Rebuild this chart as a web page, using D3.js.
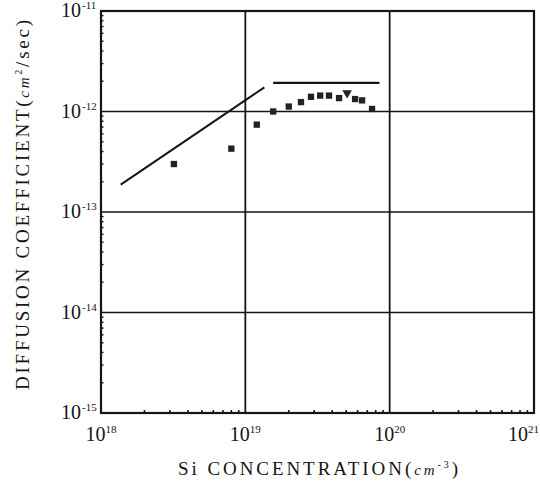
<!DOCTYPE html>
<html>
<head>
<meta charset="utf-8">
<script src="https://cdn.jsdelivr.net/npm/d3@7"></script>
<style>
  html, body { margin: 0; padding: 0; background: #fff; }
  svg { display: block; }
  svg text { font-family: "Liberation Serif", "Times New Roman", "DejaVu Serif", serif; }
</style>
</head>
<body>
<svg id="chart" width="540" height="486"></svg>
<script>
// Si concentration (cm^-3) and measured diffusion coefficient (cm^2/sec)
const concentration = [3.2e18, 8e18, 1.2e19, 1.56e19, 2e19, 2.43e19, 2.85e19, 3.3e19, 3.8e19, 4.46e19, 5.07e19, 5.76e19, 6.44e19, 7.55e19];
const diffusivity   = [3.0e-13, 4.27e-13, 7.4e-13, 1.0e-12, 1.12e-12, 1.24e-12, 1.40e-12, 1.44e-12, 1.44e-12, 1.36e-12, 1.53e-12, 1.33e-12, 1.29e-12, 1.06e-12];
const markerShape   = ["square", "square", "square", "square", "square", "square", "square", "square", "square", "square", "triangle", "square", "square", "square"];

// Guide lines: proportional rise at low concentration, plateau at high concentration
const riseLineX = [1.37e18, 1.355e19];
const riseLineY = [1.87e-13, 1.74e-12];
const flatLineX = [1.56e19, 8.5e19];
const flatLineY = [1.93e-12, 1.93e-12];

// Decade tick exponents
const xTickExponents = [18, 19, 20, 21];
const yTickExponents = [-11, -12, -13, -14, -15];

const svg = d3.select("#chart");
svg.append("rect").attr("width", 540).attr("height", 486).attr("fill", "#fff");

const plotLeft = 101, plotRight = 534, plotTop = 11, plotBottom = 413;
const x = d3.scaleLog().domain([1e18, 1e21]).range([plotLeft, plotRight]);
const y = d3.scaleLog().domain([1e-15, 1e-11]).range([plotBottom, plotTop]);

const ink = "#151515";

// Minor ticks along the bottom axis (pointing into the plot)
const xMinor = [];
for (let e = 18; e < 21; e++) for (let m = 2; m <= 9; m++) xMinor.push(m * Math.pow(10, e));
svg.append("g").selectAll("line").data(xMinor).join("line")
  .attr("x1", d => x(d)).attr("x2", d => x(d))
  .attr("y1", plotBottom).attr("y2", plotBottom - 3)
  .attr("stroke", ink).attr("stroke-width", 1.6);

// Minor ticks along the left axis
const yMinor = [];
for (let e = -15; e < -11; e++) for (let m = 2; m <= 9; m++) yMinor.push(m * Math.pow(10, e));
svg.append("g").selectAll("line").data(yMinor).join("line")
  .attr("x1", plotLeft).attr("x2", plotLeft + 2.5)
  .attr("y1", d => y(d)).attr("y2", d => y(d))
  .attr("stroke", ink).attr("stroke-width", 1.4);

// Decade grid lines
svg.append("g").selectAll("line").data(xTickExponents.slice(1, -1)).join("line")
  .attr("x1", e => x(Math.pow(10, e))).attr("x2", e => x(Math.pow(10, e)))
  .attr("y1", plotTop).attr("y2", plotBottom)
  .attr("stroke", ink).attr("stroke-width", 1.8);
svg.append("g").selectAll("line").data(yTickExponents.slice(1, -1)).join("line")
  .attr("x1", plotLeft).attr("x2", plotRight)
  .attr("y1", e => y(Math.pow(10, e))).attr("y2", e => y(Math.pow(10, e)))
  .attr("stroke", ink).attr("stroke-width", 1.6);

// Plot frame
svg.append("rect")
  .attr("x", plotLeft).attr("y", plotTop)
  .attr("width", plotRight - plotLeft).attr("height", plotBottom - plotTop)
  .attr("fill", "none").attr("stroke", ink).attr("stroke-width", 2.2);

// Y tick labels: 10 with superscript exponent
const yLab = svg.append("g").selectAll("text").data(yTickExponents).join("text")
  .attr("x", 61).attr("y", e => y(Math.pow(10, e)) + 6)
  .style("font-size", "20px").attr("fill", ink);
yLab.append("tspan").text("10");
yLab.append("tspan").attr("dx", 1).attr("dy", -8).style("font-size", "11px").text(e => "-" + Math.abs(e));

// X tick labels (the last one is kept inside the page edge)
const xLab = svg.append("g").selectAll("text").data(xTickExponents).join("text")
  .attr("x", (e, i) => i === xTickExponents.length - 1 ? 539 : x(Math.pow(10, e)))
  .attr("y", 441)
  .attr("text-anchor", (e, i) => i === xTickExponents.length - 1 ? "end" : "middle")
  .style("font-size", "20px").attr("fill", ink);
xLab.append("tspan").text("10");
xLab.append("tspan").attr("dy", -8).style("font-size", "11px").text(e => e);

// Guide lines
const line = d3.line().x(d => x(d[0])).y(d => y(d[1]));
svg.append("path").datum(d3.zip(riseLineX, riseLineY)).attr("d", line)
  .attr("fill", "none").attr("stroke", ink).attr("stroke-width", 2);
svg.append("path").datum(d3.zip(flatLineX, flatLineY)).attr("d", line)
  .attr("fill", "none").attr("stroke", ink).attr("stroke-width", 2.2);

// Data markers
const pts = d3.range(concentration.length).map(i => ({ c: concentration[i], d: diffusivity[i], s: markerShape[i] }));
const sq = d3.symbol().type(d3.symbolSquare).size(40);
const tri = d3.symbol().type(d3.symbolTriangle).size(40);
svg.append("g").selectAll("path").data(pts).join("path")
  .attr("transform", p => `translate(${x(p.c)},${y(p.d)})` + (p.s === "triangle" ? " rotate(180)" : ""))
  .attr("d", p => p.s === "triangle" ? tri() : sq())
  .attr("fill", "#222");

// Axis titles
const xt = svg.append("text")
  .attr("x", 178).attr("y", 475)
  .style("font-size", "19px").attr("fill", ink)
  .attr("textLength", 280).attr("lengthAdjust", "spacing");
xt.append("tspan").text("Si CONCENTRATION(");
xt.append("tspan").style("font-style", "italic").style("font-size", "15px").text("cm");
xt.append("tspan").attr("dy", -7).style("font-size", "10px").text("-3");
xt.append("tspan").attr("dy", 7).text(")");

const yt = svg.append("text")
  .attr("transform", "translate(29,205) rotate(-90)")
  .attr("text-anchor", "middle")
  .style("font-size", "19px").attr("fill", ink)
  .attr("textLength", 370).attr("lengthAdjust", "spacing");
yt.append("tspan").text("DIFFUSION COEFFICIENT(");
yt.append("tspan").style("font-style", "italic").style("font-size", "15px").text("cm");
yt.append("tspan").attr("dy", -7).style("font-size", "10px").text("2");
yt.append("tspan").attr("dy", 7).text("/sec)");
</script>
</body>
</html>
